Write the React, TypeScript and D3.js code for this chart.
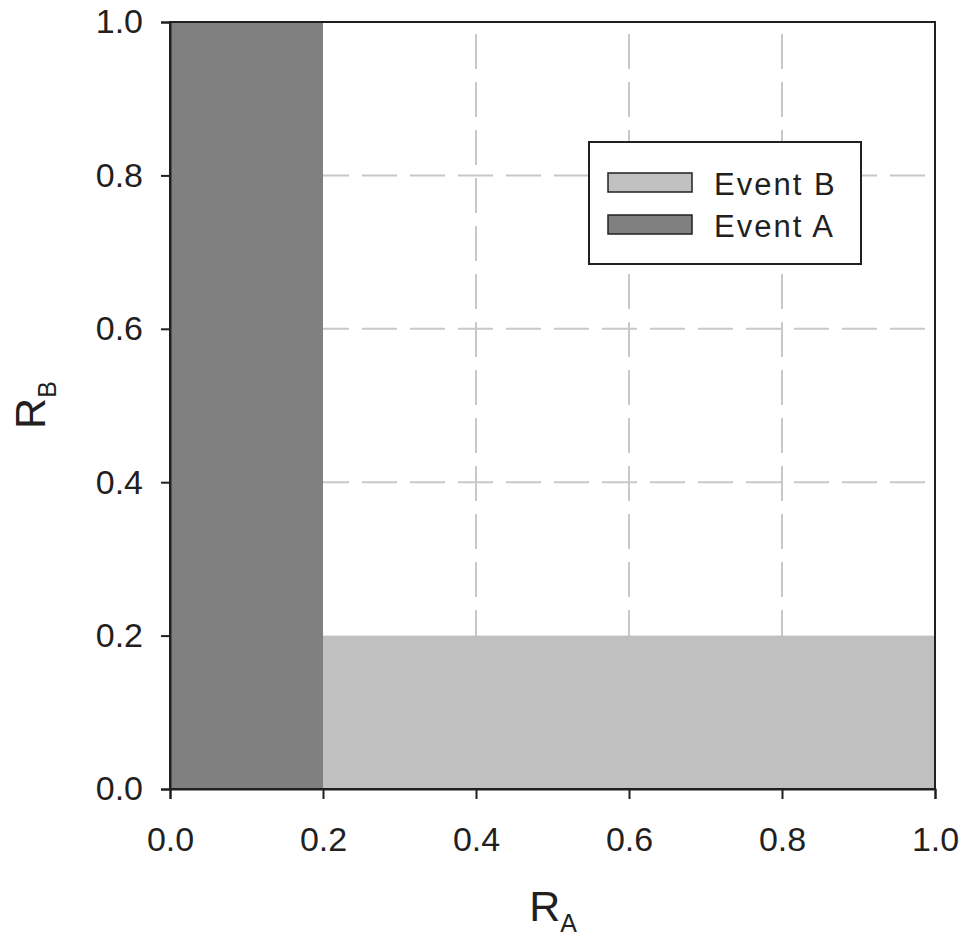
import React from 'react';
import * as d3 from 'd3';

// event regions (drawn in order, Event A on top)
const eventNames = ['Event B', 'Event A'];
const eventColors = ['#c0c0c0', '#808080'];
const xStart = [0, 0];
const xEnd = [1, 0.2];
const yStart = [0, 0];
const yEnd = [0.2, 1];

const tickValues = [0, 0.2, 0.4, 0.6, 0.8, 1.0];
const gridValues = [0.4, 0.6, 0.8];

const width = 975;
const height = 936;
const margin = { left: 170, right: 40, top: 22, bottom: 147 };

const font = '"Liberation Sans", Arial, sans-serif';
const ink = '#231f20';

const drawChart = (node: SVGSVGElement) => {
  const svg = d3.select(node).attr('width', width).attr('height', height);
  svg.selectAll('*').remove();

  const x = d3.scaleLinear().domain([0, 1]).range([margin.left, width - margin.right]);
  const y = d3.scaleLinear().domain([0, 1]).range([height - margin.bottom, margin.top]);

  // grid lines
  const grid = svg.append('g')
    .attr('stroke', '#c8c8c8')
    .attr('stroke-width', 2)
    .attr('stroke-dasharray', '35 13');
  grid.selectAll('line.v')
    .data(gridValues)
    .enter()
    .append('line')
    .attr('x1', d => x(d)).attr('x2', d => x(d))
    .attr('y1', y(0)).attr('y2', y(1));
  grid.selectAll('line.h')
    .data(gridValues)
    .enter()
    .append('line')
    .attr('x1', x(0)).attr('x2', x(1))
    .attr('y1', d => y(d)).attr('y2', d => y(d));

  // event regions
  svg.append('g')
    .selectAll('rect')
    .data(eventNames)
    .enter()
    .append('rect')
    .attr('x', (d, i) => x(xStart[i]))
    .attr('width', (d, i) => x(xEnd[i]) - x(xStart[i]))
    .attr('y', (d, i) => y(yEnd[i]))
    .attr('height', (d, i) => y(yStart[i]) - y(yEnd[i]))
    .attr('fill', (d, i) => eventColors[i]);

  // frame
  svg.append('rect')
    .attr('x', x(0)).attr('y', y(1))
    .attr('width', x(1) - x(0)).attr('height', y(0) - y(1))
    .attr('fill', 'none')
    .attr('stroke', ink)
    .attr('stroke-width', 2);

  // axes
  const xAxis = svg.append('g')
    .attr('transform', `translate(0,${y(0)})`)
    .call(d3.axisBottom(x).tickValues(tickValues).tickSize(10).tickPadding(28).tickFormat(d3.format('.1f')));
  const yAxis = svg.append('g')
    .attr('transform', `translate(${x(0)},0)`)
    .call(d3.axisLeft(y).tickValues(tickValues).tickSize(9).tickPadding(18).tickFormat(d3.format('.1f')));

  [xAxis, yAxis].forEach(ax => {
    ax.select('.domain').attr('stroke', ink).attr('stroke-width', 2);
    ax.selectAll('.tick line').attr('stroke', ink).attr('stroke-width', 2);
    ax.selectAll('.tick text')
      .attr('fill', ink)
      .style('font-family', font)
      .style('font-size', '34px');
  });

  // axis titles
  const xTitle = svg.append('text')
    .attr('x', 553)
    .attr('y', 921)
    .attr('text-anchor', 'middle')
    .attr('fill', ink)
    .style('font-family', font)
    .style('font-size', '43px');
  xTitle.append('tspan').text('R');
  xTitle.append('tspan').attr('dy', 11).style('font-size', '25px').text('A');

  const yTitle = svg.append('text')
    .attr('transform', `translate(45,${405}) rotate(-90)`)
    .attr('text-anchor', 'middle')
    .attr('fill', ink)
    .style('font-family', font)
    .style('font-size', '43px');
  yTitle.append('tspan').text('R');
  yTitle.append('tspan').attr('dy', 11).style('font-size', '25px').text('B');

  // legend
  const legend = svg.append('g');
  legend.append('rect')
    .attr('x', 589).attr('y', 142)
    .attr('width', 272).attr('height', 122)
    .attr('fill', 'white')
    .attr('stroke', ink)
    .attr('stroke-width', 2);

  const rows = legend.selectAll('g.row')
    .data(eventNames)
    .enter()
    .append('g')
    .attr('transform', (d, i) => `translate(0,${i * 42})`);
  rows.append('rect')
    .attr('x', 608).attr('y', 173)
    .attr('width', 84).attr('height', 19)
    .attr('fill', (d, i) => eventColors[i])
    .attr('stroke', ink)
    .attr('stroke-width', 1.5);
  rows.append('text')
    .attr('x', 714).attr('y', 195)
    .attr('fill', ink)
    .style('font-family', font)
    .style('font-size', '31px')
    .style('letter-spacing', '2px')
    .text(d => d);
};

class App extends React.Component {
  svgRef = React.createRef<SVGSVGElement>();

  componentDidMount () {
    if (this.svgRef.current) drawChart(this.svgRef.current);
  }

  render () {
    return (
      <svg ref={this.svgRef} style={{ position: 'absolute', left: 0, top: 0, background: 'white' }} />
    );
  }
}

export default App;
